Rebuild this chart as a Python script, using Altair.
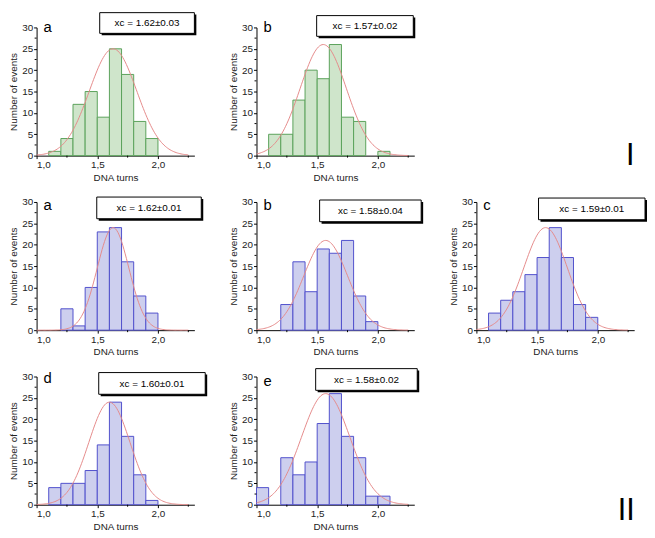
import altair as alt
import pandas as pd

# ---- data ----
letters = ["a", "b", "a", "b", "c", "d", "e"]
xc_text = ["xc = 1.62±0.03", "xc = 1.57±0.02", "xc = 1.62±0.01", "xc = 1.58±0.04",
           "xc = 1.59±0.01", "xc = 1.60±0.01", "xc = 1.58±0.02"]
groups = ["green", "green", "blue", "blue", "blue", "blue", "blue"]

# counts per 0.1-wide bin, first bin starts at 1.0
counts_Ia = [0, 1, 4, 12, 15, 9, 25, 19, 8, 4]
counts_Ib = [0, 5, 5, 13, 20, 18, 26, 9, 8, 0, 1]
counts_IIa = [0, 0, 5, 1, 10, 23, 24, 16, 8, 4]
counts_IIb = [0, 0, 6, 16, 9, 19, 18, 21, 8, 2]
counts_IIc = [0, 4, 7, 9, 13, 17, 24, 17, 6, 3]
counts_IId = [0, 4, 5, 5, 8, 14, 24, 16, 7, 1]
counts_IIe = [4, 0, 11, 7, 10, 19, 26, 16, 11, 2, 2]
all_counts = [counts_Ia, counts_Ib, counts_IIa, counts_IIb, counts_IIc, counts_IId, counts_IIe]

# Gaussian fit curves: centre, amplitude, width
fit_center = [1.63, 1.55, 1.63, 1.57, 1.57, 1.60, 1.57]
fit_amp = [25, 26, 24, 21, 24, 24, 26]
fit_sigma = [0.195, 0.19, 0.13, 0.18, 0.18, 0.17, 0.20]

x_ticks = [1.0, 1.5, 2.0]
x_minor = [1.25, 1.75, 2.25]
y_ticks = [0, 5, 10, 15, 20, 25, 30]
y_minor = [2.5, 7.5, 12.5, 17.5, 22.5, 27.5]
row_labels = ["I", "II"]

# ---- styling / layout ----
W, H = 160, 130
FONT = "Liberation Sans"
fills = {"green": "#cfe5cb", "blue": "#cdcfee"}
strokes = {"green": "#5aa25a", "blue": "#5050cc"}
box_pos = [(64, 160, -15, 6), (61, 159, -12, 9), (61, 167, -5, 17), (64, 167, -2, 20),
           (63, 171, -4, 18), (63, 171, -4, 18), (60, 163, -8, 14)]
letter_y = [5, 5, 8, 8, 8, 7, 10]

xscale = alt.Scale(domain=[1.0, 2.3], nice=False, zero=False)
yscale = alt.Scale(domain=[0, 30], nice=False)
xaxis = alt.Axis(values=x_ticks, title="DNA turns",
                 labelExpr="replace(format(datum.value, '.1f'), '.', ',')")
yaxis = alt.Axis(values=y_ticks, title="Number of events")


def panel(i):
    cnt = all_counts[i]
    df = pd.DataFrame({"start": [round(1.0 + 0.1 * k, 2) for k in range(len(cnt))], "count": cnt})
    df = df[df["count"] > 0].copy()
    df["end"] = df["start"] + 0.1
    df["zero"] = 0
    g = groups[i]
    bars = alt.Chart(df).mark_rect(fill=fills[g], stroke=strokes[g], strokeWidth=1).encode(
        x=alt.X("start:Q", scale=xscale, axis=xaxis),
        x2="end:Q",
        y=alt.Y("count:Q", scale=yscale, axis=yaxis),
        y2="zero:Q",
    )
    c, a, s = fit_center[i], fit_amp[i], fit_sigma[i]
    curve = alt.Chart(alt.sequence(1.0, 2.26, 0.01, as_="xv")).transform_calculate(
        yv=f"{a} * exp(-pow(datum.xv - {c}, 2) / (2 * {s} * {s}))"
    ).mark_line(color="#e58a8a", strokeWidth=1).encode(
        x=alt.X("xv:Q", scale=xscale, axis=xaxis),
        y=alt.Y("yv:Q", scale=yscale, axis=yaxis),
    )
    ymin = alt.Chart(pd.DataFrame({"v": y_minor})).mark_rule(color="black").encode(
        y=alt.Y("v:Q", scale=yscale, axis=yaxis), x=alt.value(-2), x2=alt.value(0))
    xmin = alt.Chart(pd.DataFrame({"v": x_minor})).mark_rule(color="black").encode(
        x=alt.X("v:Q", scale=xscale, axis=xaxis), y=alt.value(H), y2=alt.value(H + 2))
    one = pd.DataFrame({"t": [xc_text[i]], "l": [letters[i]]})
    x0, x1, y0, y1 = box_pos[i]
    shadow = alt.Chart(one).mark_rect(fill="black").encode(
        x=alt.value(x0 + 2), x2=alt.value(x1 + 2), y=alt.value(y0 + 2), y2=alt.value(y1 + 2))
    box = alt.Chart(one).mark_rect(fill="white", stroke="black", strokeWidth=1).encode(
        x=alt.value(x0), x2=alt.value(x1), y=alt.value(y0), y2=alt.value(y1))
    txt = alt.Chart(one).mark_text(font=FONT, fontSize=10, align="center", baseline="middle",
                                   color="black").encode(
        x=alt.value((x0 + x1) / 2), y=alt.value((y0 + y1) / 2 + 0.5), text="t:N")
    let = alt.Chart(one).mark_text(font=FONT, fontSize=15, align="left", baseline="alphabetic",
                                   color="black").encode(
        x=alt.value(7), y=alt.value(letter_y[i]), text="l:N")
    return alt.layer(bars, curve, ymin, xmin, shadow, box, txt, let).properties(width=W, height=H)


def label_cell(text, xpos, ypos):
    return alt.Chart(pd.DataFrame({"t": [text]})).mark_text(
        font=FONT, fontSize=31, align="center", baseline="alphabetic", color="black"
    ).encode(x=alt.value(xpos), y=alt.value(ypos), text="t:N").properties(width=W, height=H)


cells = [panel(0), panel(1), label_cell(row_labels[0], 156, 139),
         panel(2), panel(3), panel(4),
         panel(5), panel(6), label_cell(row_labels[1], 152, 146)]

chart = alt.concat(*cells, columns=3, bounds="flush",
                   spacing={"row": 47, "column": 63}).properties(
    padding={"left": 0, "top": 0, "right": 0, "bottom": 0}
).configure_view(strokeWidth=0).configure_axis(
    labelFont=FONT, titleFont=FONT, labelFontSize=10, titleFontSize=10,
    titleFontWeight="normal", labelColor="#222", titleColor="#222",
    domainColor="black", tickColor="black", tickSize=3, labelPadding=1,
    titlePadding=3, grid=False, domainWidth=1,
)

chart.save("out.html", embed_options={"renderer": "svg", "actions": False})
